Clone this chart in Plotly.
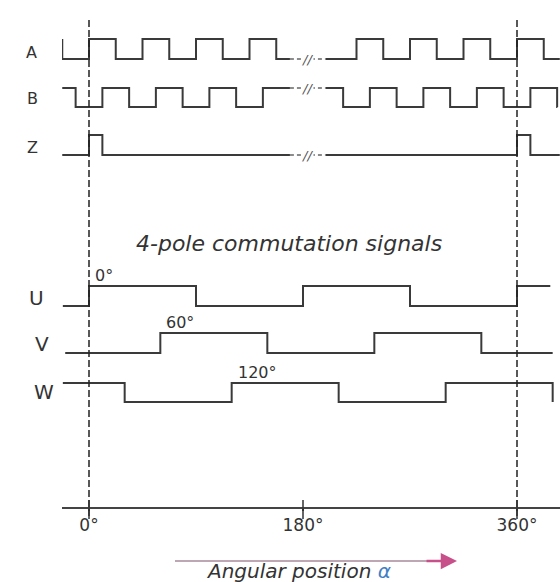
import plotly.graph_objects as go

# ---------------- data (angles in degrees) ----------------
SIGNAL_NAMES = ["A", "B", "Z", "U", "V", "W"]
# initial logic level, toggle angles, start and end angle of each trace
A_INIT, A_TOGGLES = 1, [-22.5, 0, 22.5, 45, 67.5, 90, 112.5, 135, 157.5,
                        225, 247.5, 270, 292.5, 315, 337.5, 360, 382.5]
B_INIT, B_TOGGLES = 1, [-11.25, 11.25, 33.75, 56.25, 78.75, 101.25, 123.75, 146.25,
                        213.75, 236.25, 258.75, 281.25, 303.75, 326.25, 348.75, 371.25, 393.75]
Z_INIT, Z_TOGGLES = 0, [0, 11.25, 360, 371.25]
U_INIT, U_TOGGLES = 0, [0, 90, 180, 270, 360]
V_INIT, V_TOGGLES = 0, [60, 150, 240, 330]
W_INIT, W_TOGGLES = 1, [30, 120, 210, 300, 390]
SPANS = {"A": (-22.5, 396), "B": (-22.5, 394), "Z": (-22.5, 396),
         "U": (-22, 388), "V": (-20, 390), "W": (-22, 390)}
EDGE_LABELS = ["0°", "60°", "120°"]
EDGE_ANGLES = [0, 60, 120]
TICK_VALS = [0, 180, 360]
TICK_TEXT = ["0°", "180°", "360°"]
MARK_ANGLES = [0, 360]
BREAK_DEG = 184
BREAK_SPAN = (169, 199)

# ---------------- layout constants (pixels) ----------------
W_PX, H_PX = 560, 582
ROW_LOW = {"A": 59, "B": 107, "Z": 155, "U": 306, "V": 353, "W": 402}
ROW_HIGH = {"A": 39, "B": 88, "Z": 135, "U": 286, "V": 333, "W": 383}
LABEL_POS = {"A": (31, 52), "B": (32, 98), "Z": (32, 147),
             "U": (36, 298), "V": (42, 344), "W": (44, 392)}
LINE_COLOR = "#3a3a3a"
FONT = "DejaVu Sans"

signals = {
    "A": (A_INIT, A_TOGGLES), "B": (B_INIT, B_TOGGLES), "Z": (Z_INIT, Z_TOGGLES),
    "U": (U_INIT, U_TOGGLES), "V": (V_INIT, V_TOGGLES), "W": (W_INIT, W_TOGGLES),
}


def step_points(name):
    init, toggles = signals[name]
    start, end = SPANS[name]
    lo, hi = ROW_LOW[name], ROW_HIGH[name]
    lvl = init
    yv = lambda l: hi if l else lo
    pts = [(start, yv(lvl))]
    for t in toggles:
        pts.append((t, yv(lvl)))
        lvl = 1 - lvl
        pts.append((t, yv(lvl)))
    pts.append((end, yv(lvl)))
    return pts


def px_x(p):
    return p / W_PX


def px_y(p):
    return 1 - p / H_PX


fig = go.Figure()
for name in SIGNAL_NAMES:
    pts = step_points(name)
    xs, ys = [], []
    dot_x, dot_y = [], []
    for i, (x, y) in enumerate(pts):
        if name in ("A", "B", "Z") and i > 0:
            px, py = pts[i - 1]
            if py == y and px < BREAK_SPAN[0] and x > BREAK_SPAN[1]:
                xs += [BREAK_SPAN[0], None, BREAK_SPAN[1]]
                ys += [y, None, y]
                dot_x += [BREAK_SPAN[0], BREAK_SPAN[1], None]
                dot_y += [y, y, None]
        xs.append(x)
        ys.append(y)
    fig.add_trace(go.Scatter(x=xs, y=ys, mode="lines",
                             line=dict(color=LINE_COLOR, width=2),
                             hoverinfo="skip", showlegend=False))
    if dot_x:
        fig.add_trace(go.Scatter(x=dot_x, y=dot_y, mode="lines",
                                 line=dict(color="#666666", width=1.5, dash="4px,3px"),
                                 hoverinfo="skip", showlegend=False))
        fig.add_annotation(x=BREAK_DEG, y=dot_y[0], xref="x", yref="y",
                           text="<i>//</i>", showarrow=False, bgcolor="white",
                           borderpad=0, xanchor="center", yanchor="middle",
                           font=dict(family=FONT, size=13, color="#555555"))
    lx, ly = LABEL_POS[name]
    fig.add_annotation(x=px_x(lx), y=px_y(ly), xref="paper", yref="paper",
                       text=name, showarrow=False, xanchor="center", yanchor="middle",
                       font=dict(family=FONT, size=16 if name in "ABZ" else 20,
                                 color="#333333"))

# dashed reference lines at 0° and 360°
for a in MARK_ANGLES:
    fig.add_shape(type="line", x0=a, x1=a, y0=20, y1=516, xref="x", yref="y",
                  line=dict(color="#222222", width=1.5, dash="7px,3px"))
# tick marks crossing the axis
for a in TICK_VALS:
    fig.add_shape(type="line", x0=a, x1=a, y0=500, y1=519, xref="x", yref="y",
                  line=dict(color="#333333", width=1.5))

# edge labels
for txt, a, row in zip(EDGE_LABELS, EDGE_ANGLES, ["U", "V", "W"]):
    fig.add_annotation(x=a, y=ROW_HIGH[row] - 11, xref="x", yref="y",
                       text=txt, showarrow=False, xanchor="left", yanchor="middle",
                       xshift=4,
                       font=dict(family=FONT, size=16, color="#333333"))

# title
fig.add_annotation(x=px_x(289), y=px_y(243), xref="paper", yref="paper",
                   text="<i>4-pole commutation signals</i>", showarrow=False,
                   xanchor="center", yanchor="middle",
                   font=dict(family=FONT, size=22, color="#333333"))

# direction arrow and caption
fig.add_shape(type="line", x0=px_x(175), x1=px_x(440),
              y0=px_y(561), y1=px_y(561), xref="paper", yref="paper",
              line=dict(color="#a8889a", width=1.5))
fig.add_annotation(x=px_x(457), y=px_y(561), xref="paper", yref="paper",
                   ax=-32, ay=0, text="", showarrow=True, arrowhead=2,
                   arrowsize=1.3, arrowwidth=2.5, arrowcolor="#c8508a")
fig.add_annotation(x=px_x(298), y=px_y(571), xref="paper", yref="paper",
                   text="<i>Angular position <span style='color:#3f7fc4'>α</span></i>",
                   showarrow=False, xanchor="center", yanchor="middle",
                   font=dict(family=FONT, size=20, color="#333333"))

DEG_PER_PX = 360 / 428
fig.update_layout(
    width=W_PX, height=H_PX,
    margin=dict(l=0, r=0, t=0, b=0),
    paper_bgcolor="white", plot_bgcolor="white",
    xaxis=dict(domain=[62 / W_PX, 1],
               range=[(62 - 89) * DEG_PER_PX, (W_PX - 89) * DEG_PER_PX],
               anchor="free", position=(H_PX - 508) / H_PX,
               showline=True, linecolor="#444444", linewidth=1.5,
               ticks="outside", ticklen=2, tickwidth=1.5, tickcolor="#333333",
               tickvals=TICK_VALS, ticktext=TICK_TEXT,
               tickfont=dict(family=FONT, size=17, color="#333333"),
               showgrid=False, zeroline=False, fixedrange=True),
    yaxis=dict(domain=[0, 1], range=[H_PX, 0], visible=False,
               showgrid=False, zeroline=False, fixedrange=True),
)

fig.write_html("out.html", config={"displayModeBar": False},
               post_script="document.body.style.margin='0px';")
